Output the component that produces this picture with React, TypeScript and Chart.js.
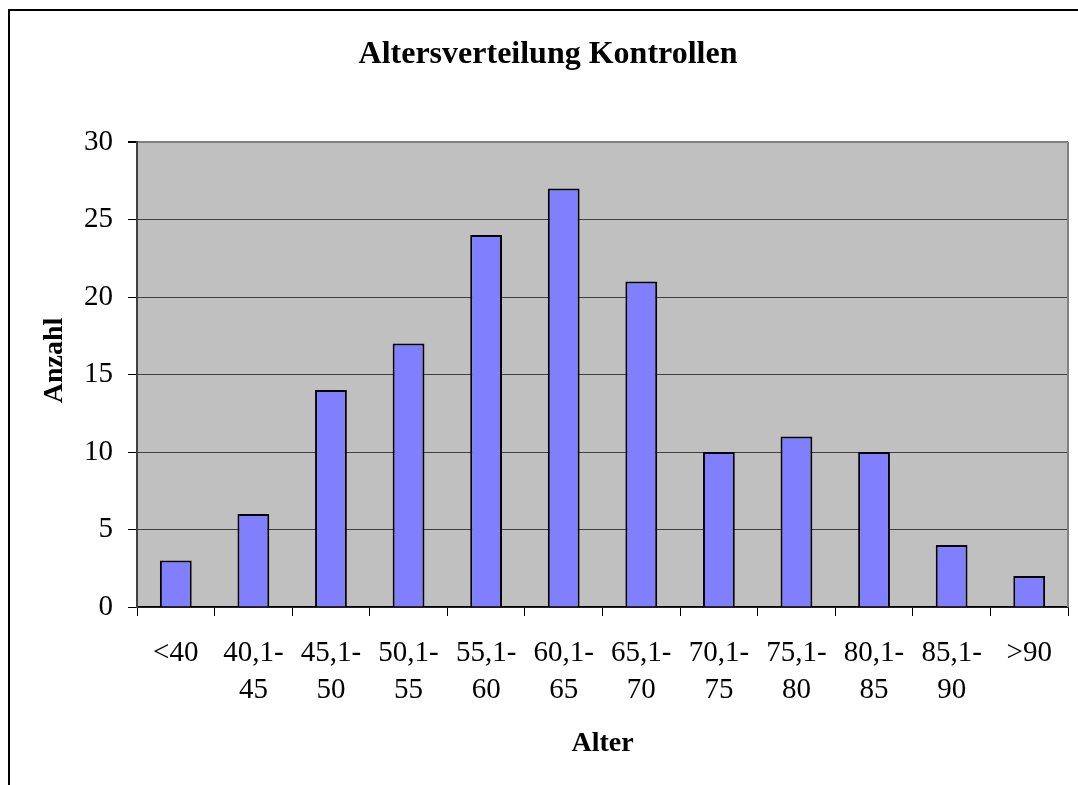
import React, { useEffect, useRef } from "react";
import { Chart, registerables } from "chart.js";

Chart.register(...registerables);

const categories: string[][] = [
  ["<40"],
  ["40,1-", "45"],
  ["45,1-", "50"],
  ["50,1-", "55"],
  ["55,1-", "60"],
  ["60,1-", "65"],
  ["65,1-", "70"],
  ["70,1-", "75"],
  ["75,1-", "80"],
  ["80,1-", "85"],
  ["85,1-", "90"],
  [">90"],
];
const counts: number[] = [3, 6, 14, 17, 24, 27, 21, 10, 11, 10, 4, 2];
const chartTitle = "Altersverteilung Kontrollen";
const xTitle = "Alter";
const yTitle = "    Anzahl";
const yMin = 0;
const yMax = 30;
const yStep = 5;

const FONT = "'Liberation Serif', 'Times New Roman', serif";

const plotBg = {
  id: "plotBg",
  beforeDraw(chart: any) {
    const { ctx, chartArea } = chart;
    if (!chartArea) return;
    ctx.save();
    ctx.fillStyle = "#C0C0C0";
    ctx.fillRect(chartArea.left, chartArea.top, chartArea.right - chartArea.left, chartArea.bottom - chartArea.top);
    ctx.restore();
  },
  beforeDatasetsDraw(chart: any) {
    const { ctx, chartArea } = chart;
    ctx.save();
    ctx.strokeStyle = "#808080";
    ctx.lineWidth = 2;
    ctx.beginPath();
    ctx.moveTo(chartArea.right, chartArea.top);
    ctx.lineTo(chartArea.right, chartArea.bottom);
    ctx.stroke();
    ctx.restore();
  },
};

export default function App() {
  const ref = useRef<HTMLCanvasElement | null>(null);
  useEffect(() => {
    if (!ref.current) return;
    const chart = new Chart(ref.current, {
      type: "bar",
      data: {
        labels: categories,
        datasets: [
          {
            data: counts,
            backgroundColor: "#8080FF",
            borderColor: "#000000",
            borderWidth: 2,
            barPercentage: 0.41,
            categoryPercentage: 1,
          },
        ],
      },
      options: {
        animation: false,
        responsive: false,
        devicePixelRatio: 1,
        layout: { padding: { left: 28, right: 10, top: 0, bottom: 0 } },
        plugins: {
          legend: { display: false },
          tooltip: { enabled: false },
          title: {
            display: true,
            text: chartTitle,
            color: "#000",
            font: { family: FONT, size: 32, weight: "bold", lineHeight: 1.2 },
            padding: { top: 35.8, bottom: 67.8 },
          },
        },
        scales: {
          x: {
            grid: {
              display: true,
              drawOnChartArea: false,
              drawTicks: true,
              tickLength: 9,
              tickColor: "#000",
              offset: true,
            },
            border: { display: true, color: "#000", width: 1.5 },
            ticks: {
              color: "#000",
              font: { family: FONT, size: 29, lineHeight: 1.28 },
              padding: 18.5,
              maxRotation: 0,
              autoSkip: false,
            },
            title: {
              display: true,
              text: xTitle,
              color: "#000",
              font: { family: FONT, size: 28, weight: "bold", lineHeight: 1.2 },
              padding: { top: 0, bottom: 24.7 },
            },
            afterFit(scale: any) {
              scale.height = 178;
            },
          },
          y: {
            min: yMin,
            max: yMax,
            ticks: {
              stepSize: yStep,
              color: "#000",
              font: { family: FONT, size: 29 },
              padding: 15,
            },
            grid: {
              drawTicks: true,
              tickLength: 9,
              tickColor: "#000",
              color: (c: any) => (c.tick && c.tick.value === yMax ? "#808080" : "#404040"),
              lineWidth: (c: any) => (c.tick && c.tick.value === yMax ? 2 : 1),
            },
            border: { display: true, color: "#404040", width: 2 },
            title: {
              display: true,
              text: yTitle,
              color: "#000",
              font: { family: FONT, size: 28, weight: "bold", lineHeight: 1.2 },
              padding: { top: 9.7, bottom: 0 },
            },
            afterFit(scale: any) {
              scale.width = 109;
            },
          },
        },
      },
      plugins: [plotBg],
    });
    return () => chart.destroy();
  }, []);

  return (
    <div style={{ position: "fixed", left: 0, top: 0, width: 1078, height: 785, overflow: "hidden", background: "#fff" }}>
      <div
        style={{
          position: "absolute",
          left: 8,
          top: 9,
          width: 1090,
          height: 800,
          border: "2px solid #000",
          boxSizing: "border-box",
        }}
      />
      <canvas ref={ref} width={1078} height={785} style={{ position: "absolute", left: 0, top: 0, width: 1078, height: 785 }} />
    </div>
  );
}
